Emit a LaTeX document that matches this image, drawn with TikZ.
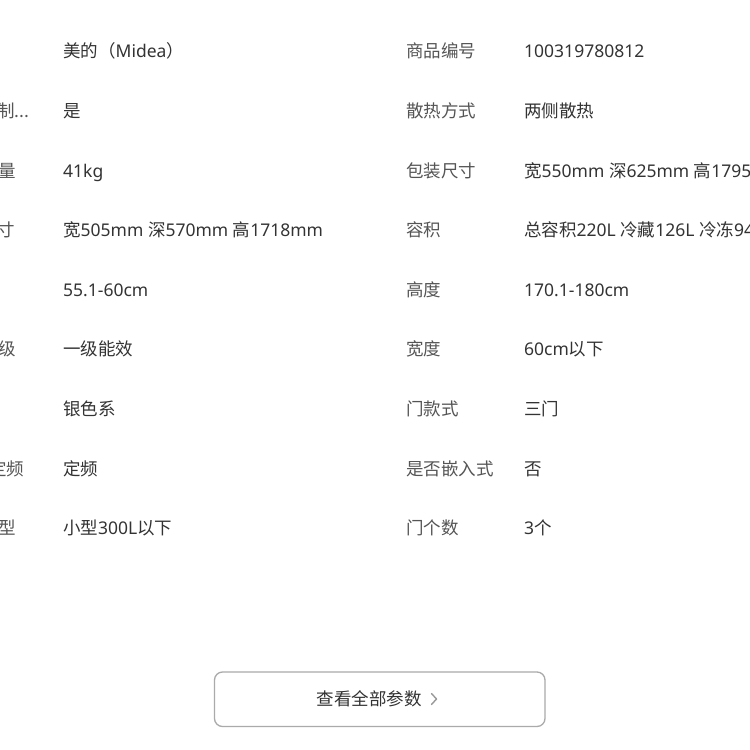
\documentclass[tikz,border=0pt]{standalone}
\usepackage{fontspec}
\setmainfont{Noto Sans CJK SC}
\newfontfamily\latnfont{Noto Sans}
\newcommand{\latn}[1]{{\latnfont #1}}
\definecolor{valc}{HTML}{333333}
\definecolor{labc}{HTML}{555555}
\definecolor{btnc}{HTML}{AAAAAA}
\definecolor{chevc}{HTML}{999999}
\tikzset{
  lab/.style={anchor=base west, inner sep=0pt, text=labc, font=\fontsize{17.5pt}{20pt}\selectfont},
  val/.style={anchor=base west, inner sep=0pt, text=valc, font=\fontsize{17.5pt}{20pt}\selectfont},
  btn/.style={draw=btnc, line width=1.3pt, rounded corners=8pt, fill=white}
}
\begin{document}
\begin{tikzpicture}[x=1pt,y=-1pt]
\useasboundingbox (0,0) rectangle (750,750);
\fill[white] (0,0) rectangle (750,750);
\clip (0,0) rectangle (750,750);
% left column (cut) labels
\node[lab] (l2) at (-3,117.5) {制...};
\node[lab] (l3) at (-2,177.1) {量};
\node[lab] (l4) at (-3,236.7) {寸};
\node[lab] (l6) at (-2,355.9) {级};
\node[lab] (l8) at (-11,475.1) {定频};
\node[lab] (l9) at (-2,534.7) {型};
% left values
\node[val] (v1) at (63,57.9) {美的（\latn{Midea}）};
\node[val] (v2) at (63,117.5) {是};
\node[val] (v3) at (63,177.1) {\latn{41kg}};
\node[val] (v4) at (63,236.7) {宽\latn{505mm }深\latn{570mm }高\latn{1718mm}};
\node[val] (v5) at (63,296.3) {\latn{55.1-60cm}};
\node[val] (v6) at (63,355.9) {一级能效};
\node[val] (v7) at (63,415.5) {银色系};
\node[val] (v8) at (63,475.1) {定频};
\node[val] (v9) at (63,534.7) {小型\latn{300L}以下};
% right labels
\node[lab] (r1) at (406,57.9) {商品编号};
\node[lab] (r2) at (406,117.5) {散热方式};
\node[lab] (r3) at (406,177.1) {包装尺寸};
\node[lab] (r4) at (406,236.7) {容积};
\node[lab] (r5) at (406,296.3) {高度};
\node[lab] (r6) at (406,355.9) {宽度};
\node[lab] (r7) at (406,415.5) {门款式};
\node[lab] (r8) at (406,475.1) {是否嵌入式};
\node[lab] (r9) at (406,534.7) {门个数};
% right values
\node[val] (w1) at (524,57.9) {\latn{100319780812}};
\node[val] (w2) at (524,117.5) {两侧散热};
\node[val] (w3) at (524,177.1) {宽\latn{550mm }深\latn{625mm }高\latn{1795mm}};
\node[val] (w4) at (524,236.7) {总容积\latn{220L }冷藏\latn{126L }冷冻\latn{94L}};
\node[val] (w5) at (524,296.3) {\latn{170.1-180cm}};
\node[val] (w6) at (524,355.9) {\latn{60cm}以下};
\node[val] (w7) at (524,415.5) {三门};
\node[val] (w8) at (524,475.1) {否};
\node[val] (w9) at (524,534.7) {\latn{3}个};
% button
\draw[btn] (214.5,672) rectangle (545,726.5);
\node[val] (bt) at (316.5,705.5) {查看全部参数};
\draw[chevc, line width=1.4pt, line cap=round, line join=round] (431.5,693.5) -- (436.5,699) -- (431.5,704.5);
\end{tikzpicture}
\end{document}
